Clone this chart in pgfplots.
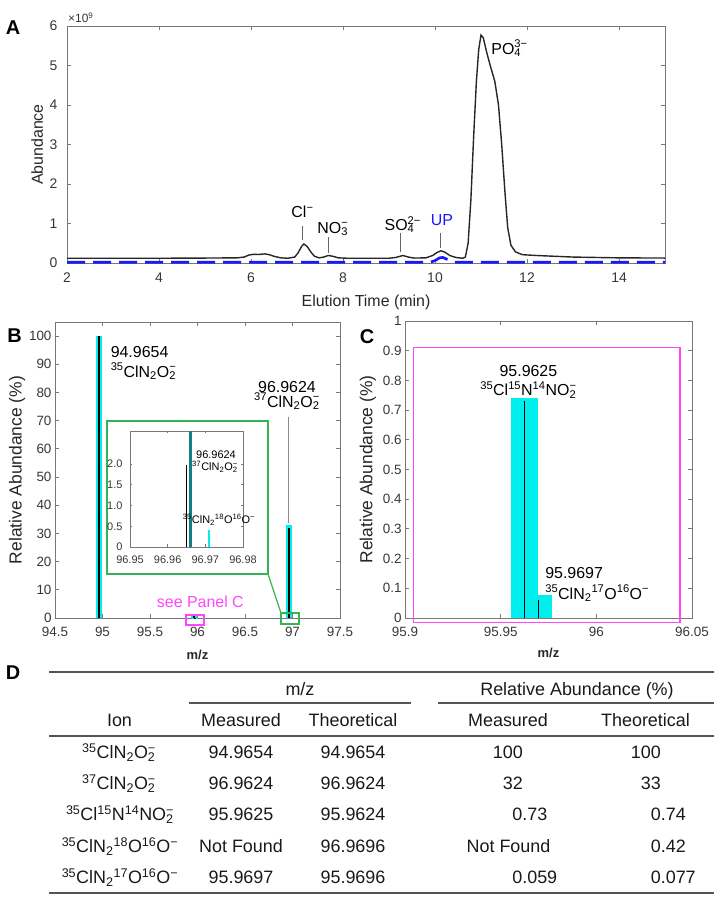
\documentclass[border=0pt]{standalone}
\usepackage{fontspec}
\setmainfont{Liberation Sans}
\usepackage{pgfplots}
\pgfplotsset{compat=1.18}
\definecolor{axgray}{RGB}{120,120,120}
\definecolor{txtgray}{RGB}{55,55,55}
\definecolor{mycyan}{RGB}{0,238,238}
\definecolor{myteal}{RGB}{16,128,128}
\definecolor{mygreen}{RGB}{52,178,84}
\definecolor{mymag}{RGB}{255,70,255}
\definecolor{myblue}{RGB}{25,25,255}
\definecolor{rulegray}{RGB}{85,85,85}
\newcommand{\fs}[1]{\fontsize{#1}{#1}\selectfont}
\newcommand{\sbsp}[2]{\rlap{\textsubscript{#1}}\textsuperscript{#2}}
\newcommand{\mn}{−}
\pgfplotsset{
  base/.style={
    scale only axis, anchor=south west, clip=false,
    axis line style={axgray, line width=0.9bp},
    tick style={axgray, line width=0.8bp},
    major tick length=4bp,
    tick align=inside,
    every tick label/.append style={font=\fs{13.5}, text=txtgray},
    label style={text=black!85},
    /pgf/number format/assume math mode=true,
  }
}
\begin{document}
\begin{tikzpicture}
\path[use as bounding box] (0bp,0bp) rectangle (720bp,901bp);

% ---------------- Panel A ----------------
\begin{axis}[base, at={(67bp,638bp)}, width=598bp, height=237bp,
  xmin=2, xmax=15, ymin=0, ymax=6,
  xtick={2,4,6,8,10,12,14}, ytick={0,1,2,3,4,5,6},
  every tick label/.append style={font=\fs{14}},
  yticklabel style={xshift=-6bp},
  xticklabel style={yshift=-6bp},
  xlabel={Elution Time (min)}, ylabel={Abundance},
  xlabel style={font=\fs{16}, at={(axis description cs:0.5,-0.165)}, anchor=center},
  ylabel style={font=\fs{16}, at={(axis description cs:-0.05,0.5)}, anchor=center},
]
\addplot[myblue, line width=2.7bp, dash pattern=on 18bp off 8bp] coordinates {
(2,0.02) (9.9,0.02) (10.0,0.06) (10.1,0.13) (10.17,0.14) (10.25,0.1) (10.35,0.04) (10.45,0.02) (15,0.02)};
\addplot[black!85, line width=1.4bp] coordinates {
(2,0.12) (3,0.12) (4,0.12) (5,0.125) (5.7,0.13) (5.85,0.15) (5.95,0.2) (6.05,0.22) (6.15,0.215) (6.3,0.23) (6.4,0.21) (6.5,0.17) (6.65,0.13) (6.8,0.12) (6.95,0.15) (7.02,0.25) (7.1,0.42) (7.15,0.48) (7.22,0.42) (7.3,0.28) (7.38,0.17) (7.48,0.13) (7.58,0.15) (7.68,0.19) (7.78,0.17) (7.9,0.13) (8.1,0.12) (8.5,0.12) (9.0,0.12) (9.15,0.14) (9.3,0.19) (9.42,0.15) (9.55,0.125) (9.8,0.13) (9.95,0.19) (10.05,0.27) (10.13,0.31) (10.22,0.27) (10.32,0.19) (10.45,0.14) (10.6,0.12) (10.66,0.15) (10.72,0.5) (10.78,1.6) (10.84,3.2) (10.9,4.6) (10.95,5.4) (11.0,5.77) (11.05,5.7) (11.12,5.35) (11.2,5.0) (11.3,4.6) (11.38,4.0) (11.45,3.0) (11.52,1.8) (11.58,0.9) (11.65,0.45) (11.75,0.28) (11.9,0.21) (12.2,0.19) (12.6,0.17) (13,0.15) (14,0.13) (15,0.125)};
\draw[black!60, line width=0.8bp] (axis cs:7.12,0.59) -- (axis cs:7.12,0.93);
\draw[black!60, line width=0.8bp] (axis cs:7.69,0.25) -- (axis cs:7.69,0.67);
\draw[black!60, line width=0.8bp] (axis cs:9.25,0.27) -- (axis cs:9.25,0.76);
\draw[black!60, line width=0.8bp] (axis cs:10.12,0.38) -- (axis cs:10.12,0.76);
\node[font=\fs{16}] at (axis cs:7.12,1.3) {Cl\textsuperscript{\mn}};
\node[font=\fs{16}] at (axis cs:7.78,0.86) {NO\sbsp{3}{\mn}};
\node[font=\fs{16}] at (axis cs:9.3,0.97) {SO\sbsp{4}{2\mn}};
\node[font=\fs{16}, text=myblue] at (axis cs:10.15,1.08) {UP};
\node[font=\fs{16}, anchor=west] at (axis cs:11.15,5.43) {PO\sbsp{4}{3\mn}};
\node[anchor=south west, font=\fs{12}, text=txtgray, inner sep=0pt] at (axis description cs:0,1) [xshift=1bp, yshift=3bp] {×10\textsuperscript{9}};
\end{axis}

% ---------------- Panel B ----------------
\begin{axis}[base, at={(55bp,283bp)}, width=285bp, height=296bp,
  xmin=94.5, xmax=97.5, ymin=0, ymax=105,
  xtick={94.5,95,95.5,96,96.5,97,97.5}, ytick={0,10,20,30,40,50,60,70,80,90,100},
  xticklabel style={yshift=-6bp},
  xlabel={\bfseries m/z}, ylabel={Relative Abundance (\%)},
  xlabel style={font=\fs{13}, at={(axis description cs:0.5,-0.125)}, anchor=center},
  ylabel style={font=\fs{17.5}, at={(axis description cs:-0.133,0.5)}, anchor=center},
]
\addplot[ycomb, mycyan, line width=6bp, mark=none] coordinates {(94.9654,100) (96.9624,33) (95.9624,0.74) (95.9696,0.077)};
\addplot[ycomb, black, line width=2bp, mark=none] coordinates {(94.9654,100) (96.9624,32) (95.9625,0.73) (95.9697,0.059)};
\draw[black!45, line width=0.9bp] (axis cs:96.956,71.4) -- (axis cs:96.956,33.8);
\node[font=\fs{16}, anchor=west] at (axis cs:95.05,94.4) {94.9654};
\node[font=\fs{16}, anchor=west] at (axis cs:95.05,87.5) {\textsuperscript{35}ClN\textsubscript{2}O\sbsp{2}{\mn}};
\node[font=\fs{16}] at (axis cs:96.942,81.9) {96.9624};
\node[font=\fs{16}] at (axis cs:96.942,76.8) {\textsuperscript{37}ClN\textsubscript{2}O\sbsp{2}{\mn}};
\draw[mygreen, line width=1.2bp] (axis cs:95.047,15.6) rectangle (axis cs:96.742,69.9);
\draw[mygreen, line width=1.2bp] (axis cs:96.742,15.6) -- (axis cs:96.879,1.77);
\draw[mygreen, line width=1.2bp] (axis cs:96.879,-2.1) rectangle (axis cs:97.068,1.77);
\draw[mymag, line width=1.2bp] (axis cs:95.879,-2.5) rectangle (axis cs:96.068,1.06);
\node[font=\fs{16}, text=mymag] at (axis cs:96.03,5.6) {see Panel C};
\end{axis}

% inset
\begin{axis}[base, at={(130bp,354bp)}, width=113bp, height=116bp, clip=true,
  axis background/.style={fill=white},
  xmin=96.95, xmax=96.98, ymin=0, ymax=2.8,
  xtick={96.95,96.96,96.97,96.98}, xticklabels={96.95,96.96,96.97,96.98},
  ytick={0,0.5,1,1.5,2}, yticklabels={0,0.5,1.0,1.5,2.0},
  every tick label/.append style={font=\fs{11}},
  xticklabel style={yshift=-5bp},
  yticklabel style={xshift=-4bp},
  major tick length=2.5bp,
]
\addplot[ycomb, black, line width=0.9bp, mark=none] coordinates {(96.9649,1.98)};
\addplot[ycomb, myteal, line width=3.2bp, mark=none] coordinates {(96.9661,2.8)};
\addplot[ycomb, mycyan, line width=2.7bp, mark=none] coordinates {(96.971,0.41)};
\end{axis}
\node[font=\fs{11}] at (216bp,446.7bp) {96.9624};
\node[font=\fs{11}] at (215bp,434bp) {\textsuperscript{37}ClN\textsubscript{2}O\sbsp{2}{\mn}};
\node[font=\fs{11}] at (219bp,381bp) {\textsuperscript{35}ClN\textsubscript{2}\textsuperscript{18}O\textsuperscript{16}O\textsuperscript{\mn}};

% ---------------- Panel C ----------------
\begin{axis}[base, at={(405bp,283bp)}, width=287bp, height=297bp,
  xmin=95.9, xmax=96.05, ymin=0, ymax=1,
  xtick={95.9,95.95,96,96.05}, xticklabels={95.9,95.95,96,96.05},
  ytick={0,0.1,0.2,0.3,0.4,0.5,0.6,0.7,0.8,0.9,1}, yticklabels={0,0.1,0.2,0.3,0.4,0.5,0.6,0.7,0.8,0.9,1},
  xticklabel style={yshift=-6bp},
  xlabel={\bfseries m/z}, ylabel={Relative Abundance (\%)},
  xlabel style={font=\fs{13}, at={(axis description cs:0.5,-0.118)}, anchor=center},
  ylabel style={font=\fs{17.5}, at={(axis description cs:-0.129,0.5)}, anchor=center},
]
\addplot[fill=mycyan, draw=none] coordinates {(95.9555,0.74) (95.9697,0.74)} \closedcycle;
\addplot[fill=mycyan, draw=none] coordinates {(95.9697,0.077) (95.9770,0.077)} \closedcycle;
\addplot[ycomb, black, line width=1.4bp, mark=none] coordinates {(95.9624,0.73) (95.9697,0.059)};
\draw[mymag, line width=1.2bp] (axis cs:95.9043,-0.015) rectangle (axis cs:96.0437,0.91);
\node[font=\fs{16}] at (axis cs:95.9645,0.833) {95.9625};
\node[font=\fs{16}] at (axis cs:95.9645,0.768) {\textsuperscript{35}Cl\textsuperscript{15}N\textsuperscript{14}NO\sbsp{2}{\mn}};
\node[font=\fs{16}, anchor=west] at (axis cs:95.9715,0.150) {95.9697};
\node[font=\fs{16}, anchor=west] at (axis cs:95.9715,0.083) {\textsuperscript{35}ClN\textsubscript{2}\textsuperscript{17}O\textsuperscript{16}O\textsuperscript{\mn}};
\end{axis}

% panel letters
\node[font=\bfseries\fs{20}] at (13bp,873bp) {A};
\node[font=\bfseries\fs{20}] at (14.5bp,565bp) {B};
\node[font=\bfseries\fs{20}] at (367bp,564bp) {C};
\node[font=\bfseries\fs{20}] at (13bp,228bp) {D};

% ---------------- Table D ----------------
\begin{scope}[every node/.style={font=\fs{18}, text=black!90, inner sep=0pt}]
\draw[rulegray, line width=1.6bp] (49bp,229bp) -- (714bp,229bp);
\node[anchor=base] at (300bp,205.5bp) {m/z};
\node[anchor=base] at (577bp,205.5bp) {Relative Abundance (\%)};
\draw[rulegray, line width=1.3bp] (189bp,198bp) -- (411bp,198bp);
\draw[rulegray, line width=1.3bp] (438bp,198bp) -- (714bp,198bp);
\node[anchor=base] at (119.5bp,174.5bp) {Ion};
\node[anchor=base] at (241bp,174.5bp) {Measured};
\node[anchor=base] at (353bp,174.5bp) {Theoretical};
\node[anchor=base] at (508bp,174.5bp) {Measured};
\node[anchor=base] at (645.5bp,174.5bp) {Theoretical};
\draw[rulegray, line width=1.6bp] (49bp,165bp) -- (714bp,165bp);
% row 1
\node[anchor=base] at (119bp,142.5bp) {\textsuperscript{35}ClN\textsubscript{2}O\sbsp{2}{\mn}};
\node[anchor=base] at (241bp,142.5bp) {94.9654};
\node[anchor=base] at (353bp,142.5bp) {94.9654};
\node[anchor=base east] at (523bp,142.5bp) {100};
\node[anchor=base east] at (661bp,142.5bp) {100};
% row 2
\node[anchor=base] at (119bp,111.5bp) {\textsuperscript{37}ClN\textsubscript{2}O\sbsp{2}{\mn}};
\node[anchor=base] at (241bp,111.5bp) {96.9624};
\node[anchor=base] at (353bp,111.5bp) {96.9624};
\node[anchor=base east] at (523bp,111.5bp) {32};
\node[anchor=base east] at (661bp,111.5bp) {33};
% row 3
\node[anchor=base] at (120bp,80.5bp) {\textsuperscript{35}Cl\textsuperscript{15}N\textsuperscript{14}NO\sbsp{2}{\mn}};
\node[anchor=base] at (241bp,80.5bp) {95.9625};
\node[anchor=base] at (353bp,80.5bp) {95.9624};
\node[anchor=base east] at (522.5bp,80.5bp) {0\rlap{.73}};
\node[anchor=base east] at (661bp,80.5bp) {0\rlap{.74}};
% row 4
\node[anchor=base] at (120bp,48.5bp) {\textsuperscript{35}ClN\textsubscript{2}\textsuperscript{18}O\textsuperscript{16}O\textsuperscript{\mn}};
\node[anchor=base] at (241bp,48.5bp) {Not Found};
\node[anchor=base] at (353bp,48.5bp) {96.9696};
\node[anchor=base] at (508.5bp,48.5bp) {Not Found};
\node[anchor=base east] at (661bp,48.5bp) {0\rlap{.42}};
% row 5
\node[anchor=base] at (120bp,17.5bp) {\textsuperscript{35}ClN\textsubscript{2}\textsuperscript{17}O\textsuperscript{16}O\textsuperscript{\mn}};
\node[anchor=base] at (241bp,17.5bp) {95.9697};
\node[anchor=base] at (353bp,17.5bp) {95.9696};
\node[anchor=base east] at (522.5bp,17.5bp) {0\rlap{.059}};
\node[anchor=base east] at (661bp,17.5bp) {0\rlap{.077}};
\draw[rulegray, line width=1.6bp] (49bp,8bp) -- (714bp,8bp);
\end{scope}
\end{tikzpicture}
\end{document}
